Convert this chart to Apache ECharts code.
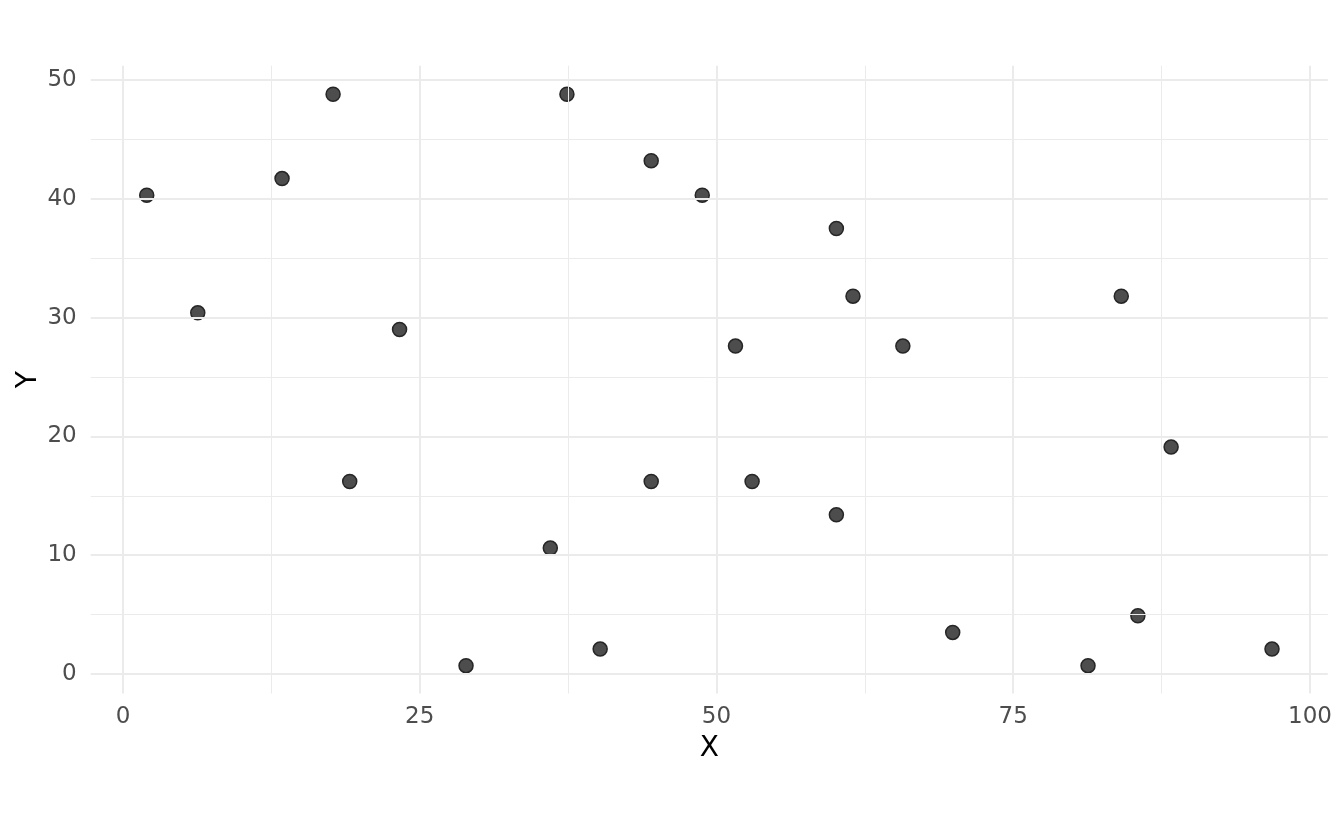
<!DOCTYPE html>
<html>
<head>
<meta charset="utf-8">
<title>Scatter</title>
<script src="https://cdn.jsdelivr.net/npm/echarts@6/dist/echarts.min.js"></script>
<style>
  html, body { margin: 0; padding: 0; background: #fff; }
  #chart { width: 1344px; height: 830px; }
</style>
</head>
<body>
<div id="chart"></div>
<script>
// points
const xValues = [2.0, 6.3, 13.4, 17.7, 19.1, 23.3, 28.9, 36.0, 37.4, 40.2, 44.5, 44.5, 48.8,
                 51.6, 53.0, 60.1, 60.1, 61.5, 65.7, 69.9, 81.3, 84.1, 85.5, 88.3, 96.8];
const yValues = [40.3, 30.4, 41.7, 48.8, 16.2, 29.0, 0.7, 10.6, 48.8, 2.1, 43.2, 16.2, 40.3,
                 27.6, 16.2, 37.5, 13.4, 31.8, 27.6, 3.5, 0.7, 31.8, 4.9, 19.1, 2.1];

// tick / grid values
const xTicks = [0, 25, 50, 75, 100];
const xMinor = [12.5, 37.5, 62.5, 87.5];
const yTicks = [0, 10, 20, 30, 40, 50];
const yMinor = [5, 15, 25, 35, 45];

const points = xValues.map((x, i) => [x, yValues[i]]);

const font = 'DejaVu Sans';
const gridColor = '#EBEBEB';

// gridlines as mark lines (ggplot-style major + minor)
const gridLines = [].concat(
    xMinor.map(v => ({ xAxis: v, lineStyle: { width: 1 } })),
    yMinor.map(v => ({ yAxis: v, lineStyle: { width: 1 } })),
    xTicks.map(v => ({ xAxis: v, lineStyle: { width: 2 } })),
    yTicks.map(v => ({ yAxis: v, lineStyle: { width: 2 } }))
);

const chart = echarts.init(document.getElementById('chart'));
chart.setOption({
    backgroundColor: '#fff',
    animation: false,
    grid: { left: 90.7, right: 16.2, top: 65.7, bottom: 136.5, containLabel: false, outerBoundsMode: 'none' },
    xAxis: {
        type: 'value',
        min: -2.72,
        max: 101.5,
        name: 'X',
        nameLocation: 'middle',
        nameGap: 41,
        nameMoveOverlap: false,
        nameTextStyle: { fontFamily: font, fontSize: 28, color: '#000' },
        axisLine: { show: false },
        axisTick: { show: false },
        splitLine: { show: false },
        axisLabel: {
            customValues: xTicks,
            margin: 12,
            fontFamily: font,
            fontSize: 23,
            color: '#4D4D4D'
        }
    },
    yAxis: {
        type: 'value',
        min: -1.64,
        max: 51.2,
        name: 'Y',
        nameLocation: 'middle',
        nameRotate: 90,
        nameGap: 48,
        nameMoveOverlap: false,
        nameTextStyle: { fontFamily: font, fontSize: 28, color: '#000' },
        axisLine: { show: false },
        axisTick: { show: false },
        splitLine: { show: false },
        axisLabel: {
            customValues: yTicks,
            margin: 14,
            fontFamily: font,
            fontSize: 23,
            color: '#4D4D4D'
        }
    },
    series: [
        {
            type: 'scatter',
            data: [],
            z: 1,
            silent: true,
            markLine: {
                silent: true,
                symbol: ['none', 'none'],
                label: { show: false },
                emphasis: { disabled: true },
                lineStyle: { type: 'solid', color: gridColor },
                data: gridLines
            }
        },
        {
            type: 'scatter',
            z: 3,
            symbol: 'circle',
            symbolSize: 14,
            itemStyle: {
                color: '#4D4D4D',
                borderColor: '#262626',
                borderWidth: 1.5,
                opacity: 1
            },
            data: points
        }
    ]
});
</script>
</body>
</html>
